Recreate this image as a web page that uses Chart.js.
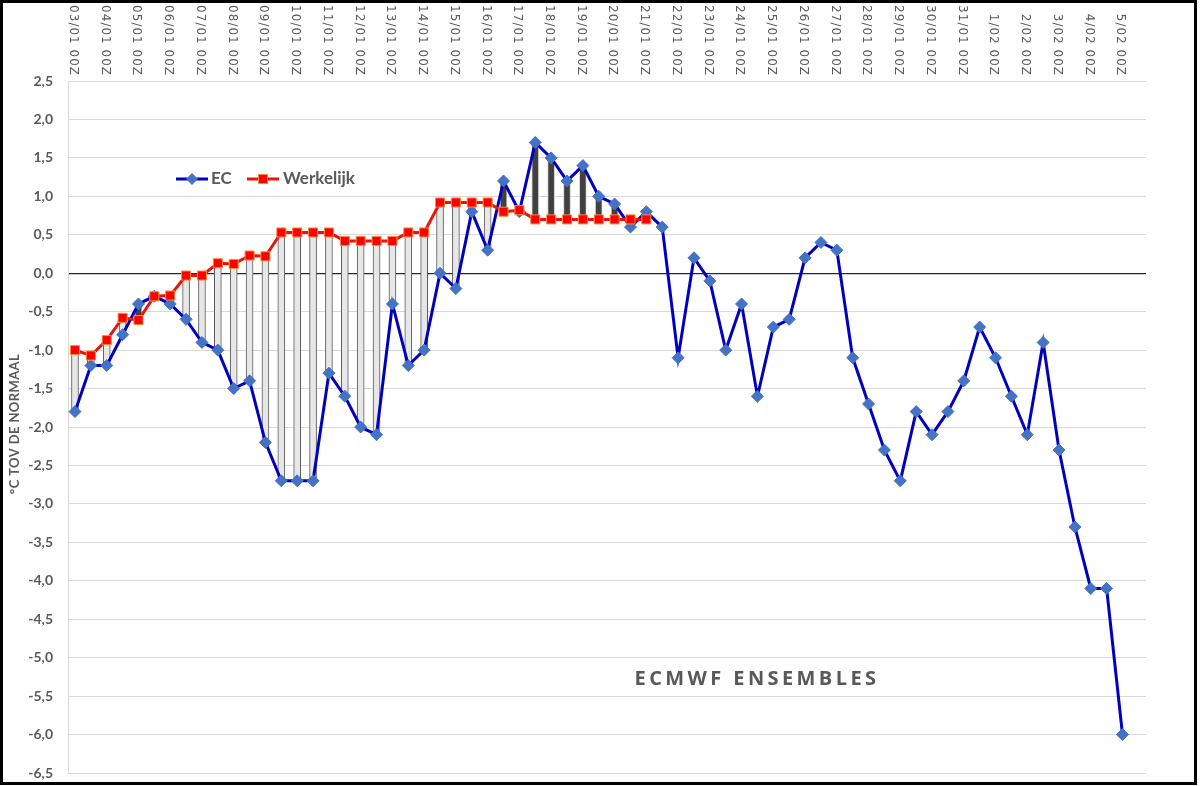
<!DOCTYPE html>
<html>
<head>
<meta charset="utf-8">
<script src="https://cdn.jsdelivr.net/npm/chart.js@4.4.1/dist/chart.umd.min.js"></script>
<style>
    body { margin: 0; background: #fff; overflow: hidden; }
    #wrap { position: relative; width: 1202px; height: 786px; }
    #frame { position: absolute; left: 0; top: 0; width: 1197px; height: 785px;
             border: 3px solid #000; box-sizing: border-box; pointer-events: none; }
</style>
</head>
<body>
<div id="wrap">
    <canvas id="chart" width="1202" height="786"></canvas>
    <div id="frame"></div>
</div>
<script>
// one label per day (00Z), the data runs every 12 hours
const dayLabels = ['03/01 00Z','04/01 00Z','05/01 00Z','06/01 00Z','07/01 00Z','08/01 00Z','09/01 00Z',
    '10/01 00Z','11/01 00Z','12/01 00Z','13/01 00Z','14/01 00Z','15/01 00Z','16/01 00Z','17/01 00Z',
    '18/01 00Z','19/01 00Z','20/01 00Z','21/01 00Z','22/01 00Z','23/01 00Z','24/01 00Z','25/01 00Z',
    '26/01 00Z','27/01 00Z','28/01 00Z','29/01 00Z','30/01 00Z','31/01 00Z','1/02 00Z','2/02 00Z',
    '3/02 00Z','4/02 00Z','5/02 00Z']

const ec = [-1.8, -1.2, -1.2, -0.8, -0.4, -0.3, -0.4, -0.6, -0.9, -1.0,
    -1.5, -1.4, -2.2, -2.7, -2.7, -2.7, -1.3, -1.6, -2.0, -2.1,
    -0.4, -1.2, -1.0, 0.0, -0.2, 0.8, 0.3, 1.2, 0.8, 1.7,
    1.5, 1.2, 1.4, 1.0, 0.9, 0.6, 0.8, 0.6, -1.1, 0.2,
    -0.1, -1.0, -0.4, -1.6, -0.7, -0.6, 0.2, 0.4, 0.3, -1.1,
    -1.7, -2.3, -2.7, -1.8, -2.1, -1.8, -1.4, -0.7, -1.1, -1.6,
    -2.1, -0.9, -2.3, -3.3, -4.1, -4.1, -6.0]

const werkelijk = [-1.0, -1.07, -0.87, -0.58, -0.61, -0.3, -0.29, -0.03, -0.03, 0.13,
    0.12, 0.23, 0.22, 0.53, 0.53, 0.53, 0.53, 0.42, 0.42, 0.42,
    0.42, 0.53, 0.53, 0.92, 0.92, 0.92, 0.92, 0.8, 0.82, 0.7,
    0.7, 0.7, 0.7, 0.7, 0.7, 0.7, 0.7]

const ecPoints = ec.map((v, i) => ({x: i, y: v}))
const wPoints = werkelijk.map((v, i) => ({x: i, y: v}))
const barPoints = werkelijk.map((v, i) => ({x: i, y: [v, ec[i]]}))
const barFill = werkelijk.map((v, i) => ec[i] > v ? '#404040' : '#e7e7e7')
const barEdge = werkelijk.map((v, i) => ec[i] > v ? '#d0d0d0' : '#5a5a5a')

const textGrey = '#595959'

const overlayPlugin = {
    id: 'overlay',
    afterDraw(chart) {
        const ctx = chart.ctx
        const xs = chart.scales.x

        // date labels on top, reading downwards
        ctx.save()
        ctx.fillStyle = textGrey
        ctx.font = '12px "DejaVu Sans"'
        ctx.letterSpacing = '1px'
        ctx.textAlign = 'right'
        ctx.textBaseline = 'middle'
        dayLabels.forEach((lab, k) => {
            const x = xs.getPixelForValue(k * 2) - 2
            ctx.save()
            ctx.translate(x, 76)
            ctx.rotate(Math.PI / 2)
            ctx.fillText(lab, 0, 0)
            ctx.restore()
        })
        ctx.restore()

        // y axis title
        ctx.save()
        ctx.fillStyle = textGrey
        ctx.font = 'bold 13px Lato'
        ctx.letterSpacing = '0.4px'
        ctx.textAlign = 'center'
        ctx.textBaseline = 'middle'
        ctx.translate(15, 424)
        ctx.rotate(-Math.PI / 2)
        ctx.fillText('°C TOV DE NORMAAL', 0, 0)
        ctx.restore()

        // legend
        ctx.save()
        const ly = 179
        ctx.lineWidth = 3
        ctx.strokeStyle = '#0000c0'
        ctx.beginPath(); ctx.moveTo(176, ly); ctx.lineTo(208, ly); ctx.stroke()
        ctx.fillStyle = '#4472c4'
        ctx.beginPath()
        ctx.moveTo(192 - 6, ly); ctx.lineTo(192, ly - 6); ctx.lineTo(192 + 6, ly); ctx.lineTo(192, ly + 6)
        ctx.closePath(); ctx.fill()
        ctx.strokeStyle = '#e8150c'
        ctx.beginPath(); ctx.moveTo(247, ly); ctx.lineTo(279, ly); ctx.stroke()
        ctx.fillStyle = '#ff0000'
        ctx.fillRect(263 - 4.5, ly - 4.5, 9, 9)
        ctx.lineWidth = 1
        ctx.strokeStyle = '#ff8a3c'
        ctx.strokeRect(263 - 4.5, ly - 4.5, 9, 9)
        ctx.fillStyle = textGrey
        ctx.font = 'bold 17px Lato'
        ctx.textBaseline = 'middle'
        ctx.textAlign = 'left'
        ctx.fillText('EC', 211, ly)
        ctx.fillText('Werkelijk', 283, ly)
        ctx.restore()

        // caption
        ctx.save()
        ctx.fillStyle = textGrey
        ctx.font = 'bold 20px "Open Sans"'
        ctx.letterSpacing = '3.4px'
        ctx.textAlign = 'center'
        ctx.textBaseline = 'middle'
        ctx.fillText('ECMWF ENSEMBLES', 757, 679)
        ctx.restore()
    }
}

const config = {
    data: {
        datasets: [{
            type: 'line',
            label: 'Werkelijk',
            data: wPoints,
            borderColor: '#e8150c',
            borderWidth: 3,
            pointStyle: 'rect',
            pointRadius: 6.4,
            pointBackgroundColor: '#ff0000',
            pointBorderColor: '#ff8a3c',
            pointBorderWidth: 1,
            tension: 0,
            order: 0
        }, {
            type: 'line',
            label: 'EC',
            data: ecPoints,
            borderColor: '#0000c0',
            borderWidth: 3,
            pointStyle: 'rectRot',
            pointRadius: 6,
            pointBackgroundColor: '#4472c4',
            pointBorderColor: '#4472c4',
            pointBorderWidth: 1,
            tension: 0,
            order: 1
        }, {
            type: 'bar',
            label: 'verschil',
            data: barPoints,
            backgroundColor: barFill,
            borderColor: barEdge,
            borderWidth: 1,
            borderSkipped: false,
            barThickness: 7,
            order: 2
        }]
    },
    options: {
        responsive: false,
        animation: false,
        layout: {
            padding: {top: 81, bottom: 13, right: 56, left: 4}
        },
        scales: {
            x: {
                type: 'linear',
                display: false,
                offset: false,
                bounds: 'data',
                min: -0.44,
                max: 67.48
            },
            y: {
                min: -6.5,
                max: 2.5,
                afterFit: (scale) => {
                    scale.width = 64
                    scale.paddingTop = 0
                    scale.paddingBottom = 0
                },
                ticks: {
                    stepSize: 0.5,
                    padding: 15,
                    color: textGrey,
                    font: {family: 'Lato', size: 14, weight: 'bold'},
                    callback: (v) => v.toFixed(1).replace('.', ',')
                },
                grid: {
                    drawTicks: false,
                    color: (c) => c.tick && c.tick.value === 0 ? '#1e1e80' : '#d9d9d9',
                    lineWidth: (c) => c.tick && c.tick.value === 0 ? 1.2 : 1
                },
                border: {display: true, color: '#d9d9d9'}
            }
        },
        plugins: {
            legend: {display: false},
            tooltip: {enabled: false}
        }
    },
    plugins: [overlayPlugin]
}

chart = new Chart(document.getElementById('chart'), config)
</script>
</body>
</html>
